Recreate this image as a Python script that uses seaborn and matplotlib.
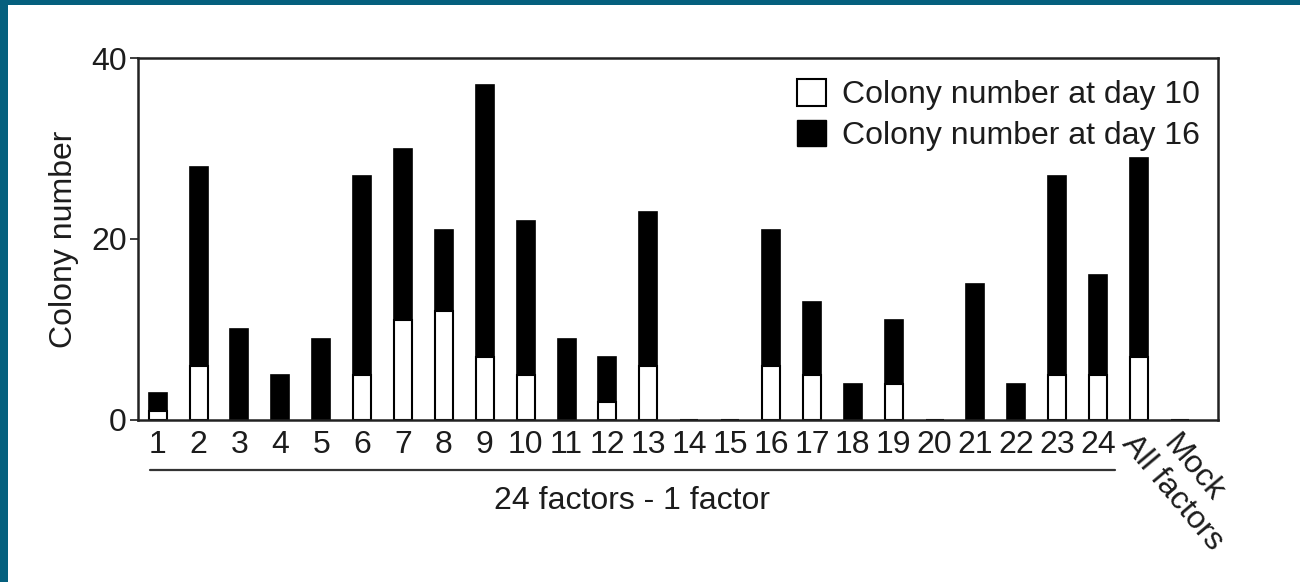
import pandas as pd
import seaborn as sns
import matplotlib.pyplot as plt
from matplotlib.patches import Patch, Rectangle
from matplotlib.transforms import blended_transform_factory

# values
conditions = [str(i) for i in range(1, 25)] + ["All factors", "Mock"]
day16 = [3, 28, 10, 5, 9, 27, 30, 21, 37, 22, 9, 7, 23, 0, 0,
         21, 13, 4, 11, 0, 15, 4, 27, 16, 29, 0]
day10 = [1, 6, 0, 0, 0, 5, 11, 12, 7, 5, 0, 2, 6, 0, 0,
         6, 5, 0, 4, 0, 0, 0, 5, 5, 7, 0]
yticks = [0, 20, 40]

df = pd.DataFrame({"condition": conditions, "day10": day10, "day16": day16})

sns.set_style("white")
plt.rcParams["font.family"] = ["Liberation Sans", "DejaVu Sans"]
ink = "#1c1c1c"
fs = 23

fig = plt.figure(figsize=(13, 5.82), dpi=100)
ax = fig.add_axes([0.1062, 0.2784, 0.8307, 0.6219])

# day 16 count as the full black bar, day 10 drawn white on top of it
sns.barplot(data=df, x="condition", y="day16", order=conditions, color="black",
            saturation=1, width=0.44, edgecolor="black", linewidth=1.2, ax=ax)
sns.barplot(data=df, x="condition", y="day10", order=conditions, color="white",
            saturation=1, width=0.44, edgecolor="black", linewidth=1.5, ax=ax)

ax.set_xlim(-0.48, 25.93)
ax.set_ylim(0, 40)
ax.set_yticks(yticks)
ax.set_xlabel("")
ax.set_ylabel("Colony number", fontsize=fs, color=ink, labelpad=9)

for side in ax.spines.values():
    side.set_visible(True)
    side.set_linewidth(1.8)
    side.set_color("#222222")

ax.tick_params(axis="y", direction="out", length=6, width=1.2, left=True,
               labelsize=fs, colors=ink, pad=2)
ax.tick_params(axis="x", length=0, labelsize=fs, colors=ink, pad=7)

ticklabels = ax.get_xticklabels()
for lab in ticklabels[-2:]:
    lab.set_rotation(-50)
    lab.set_ha("left")
    lab.set_va("top")
    lab.set_rotation_mode("anchor")

# bracket line and group label below the 24 single-dropout conditions
trans = blended_transform_factory(ax.transData, ax.transAxes)
ax.plot([-0.18, 23.41], [-0.138, -0.138], color="#333333", lw=1.6,
        transform=trans, clip_on=False)
ax.text(11.6, -0.225, "24 factors - 1 factor", transform=trans, ha="center",
        va="center", fontsize=fs, color=ink)

handles = [Patch(facecolor="white", edgecolor="black", linewidth=1.5),
           Patch(facecolor="black", edgecolor="black")]
ax.legend(handles, ["Colony number at day 10", "Colony number at day 16"],
          loc="upper right", bbox_to_anchor=(1.001, 0.995), frameon=False,
          fontsize=fs, handlelength=0.9, handleheight=0.9, handletextpad=0.5,
          labelspacing=0.3, labelcolor=ink, borderaxespad=0.2)

# blue frame strips on the left and top edges of the image
blue = "#05607e"
fig.add_artist(Rectangle((0, 0), 8 / 1300, 1, transform=fig.transFigure,
                         facecolor=blue, edgecolor="none"))
fig.add_artist(Rectangle((0, 1 - 5 / 582), 1, 5 / 582, transform=fig.transFigure,
                         facecolor=blue, edgecolor="none"))

fig.savefig("out.png", dpi=100, facecolor="white")
